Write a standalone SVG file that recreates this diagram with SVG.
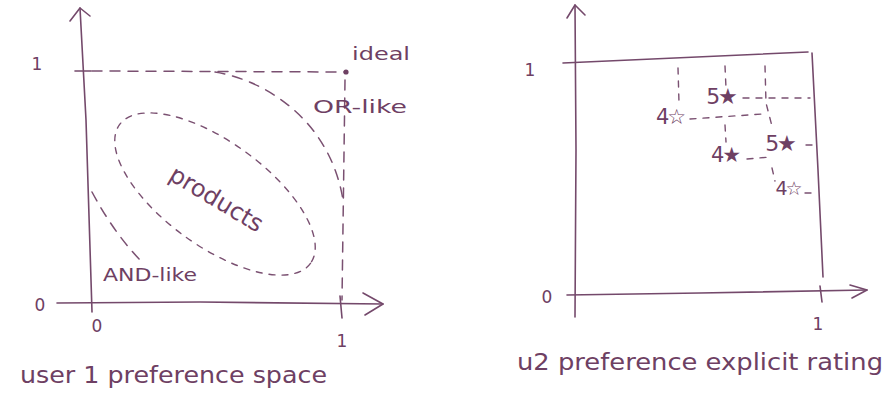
<svg xmlns="http://www.w3.org/2000/svg" width="889" height="397" viewBox="0 0 889 397">
<defs>
<style>
.ink{fill:none;stroke:#74496b;stroke-width:1.6;stroke-linecap:round;stroke-linejoin:round}
.dash{fill:none;stroke:#7a5071;stroke-width:1.5;stroke-linecap:round;stroke-dasharray:10 8}
.dsh{fill:none;stroke:#7a5071;stroke-width:1.4;stroke-linecap:round;stroke-dasharray:6 7}
.t{font-family:"DejaVu Sans","Liberation Sans",sans-serif;fill:#6e4063}
.r{letter-spacing:-2px}
</style>
</defs>
<rect width="889" height="397" fill="#ffffff"/>

<g id="left-panel">
  <g id="left-axes">
    <path class="ink" d="M92,312 L86,120 L80,8"/>
    <path class="ink" d="M70,21 L80,8 L90,16"/>
    <path class="ink" d="M57,303 L200,302 L383,304"/>
    <path class="ink" d="M363,293 L383,304 L365,315"/>
    <path class="ink" d="M75,71 L91,71"/>
    <path class="ink" d="M340,296 L342,318"/>
  </g>
  <g id="left-guides">
    <path class="dash" d="M92,71 L345,72"/>
    <path class="dash" d="M345,80 L342,300"/>
    <circle cx="346" cy="72" r="2.6" fill="#6e4063"/>
  </g>
  <g id="boundaries">
    <path class="dash" d="M215,72 C265,80 330,120 343,200"/>
    <path class="dash" d="M92,192 Q115,235 143,263"/>
  </g>
  <g id="products">
    <ellipse class="dsh" cx="215" cy="194" rx="118" ry="52" transform="rotate(36 215 194)"/>
    <text class="t" x="216" y="207" font-size="24" text-anchor="middle" transform="rotate(31 216 200)">products</text>
  </g>
  <g id="left-labels">
    <text class="t" x="37" y="70" font-size="17" text-anchor="middle">1</text>
    <text class="t" x="40" y="311" font-size="17" text-anchor="middle">0</text>
    <text class="t" x="97" y="332" font-size="17" text-anchor="middle">0</text>
    <text class="t" x="342" y="347" font-size="17" text-anchor="middle">1</text>
    <text class="t" x="352" y="60" font-size="18" textLength="58" lengthAdjust="spacingAndGlyphs">ideal</text>
    <text class="t" x="313" y="113" font-size="18" textLength="94" lengthAdjust="spacingAndGlyphs">OR-like</text>
    <text class="t" x="103" y="281" font-size="18" textLength="94" lengthAdjust="spacingAndGlyphs">AND-like</text>
    <text class="t" x="20" y="383" font-size="23" textLength="307" lengthAdjust="spacingAndGlyphs">user 1 preference space</text>
  </g>
</g>

<g id="right-panel">
  <g id="right-axes">
    <path class="ink" d="M575,317 L576,150 L575,5"/>
    <path class="ink" d="M567,18 L575,5 L585,15"/>
    <path class="ink" d="M567,295 L700,293 L867,290"/>
    <path class="ink" d="M850,285 L867,290 L852,298"/>
    <path class="ink" d="M820,286 L822,302"/>
    <path class="ink" d="M563,63 L808,52"/>
    <path class="ink" d="M812,53 L818,170 L823,277"/>
  </g>
  <g id="rating-guides">
    <path class="dsh" d="M678,68 L679,103"/>
    <path class="dsh" d="M725,66 L726,88"/>
    <path class="dsh" d="M765,66 L766,103 L773,130"/>
    <path class="dsh" d="M743,98 L810,98"/>
    <path class="dsh" d="M690,119 L763,114"/>
    <path class="dsh" d="M725,125 L726,142"/>
    <path class="dsh" d="M747,159 L770,157"/>
    <path class="dsh" d="M806,145 L813,145"/>
    <path class="dsh" d="M772,168 L775,181"/>
    <path class="dsh" d="M805,193 L814,193"/>
  </g>
  <g id="ratings">
    <text class="t r" x="670" y="124" font-size="21" text-anchor="middle">4☆</text>
    <text class="t r" x="721" y="104" font-size="22" text-anchor="middle">5★</text>
    <text class="t r" x="725" y="162" font-size="21" text-anchor="middle">4★</text>
    <text class="t r" x="780" y="151" font-size="22" text-anchor="middle">5★</text>
    <text class="t r" x="788" y="195" font-size="19" text-anchor="middle">4☆</text>
  </g>
  <g id="right-labels">
    <text class="t" x="530" y="76" font-size="17" text-anchor="middle">1</text>
    <text class="t" x="547" y="303" font-size="17" text-anchor="middle">0</text>
    <text class="t" x="818" y="330" font-size="17" text-anchor="middle">1</text>
    <text class="t" x="517" y="370" font-size="23" textLength="366" lengthAdjust="spacingAndGlyphs">u2 preference explicit rating</text>
  </g>
</g>
</svg>
